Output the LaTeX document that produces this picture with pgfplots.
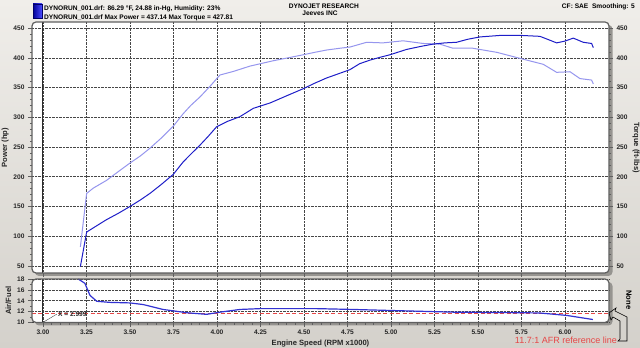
\documentclass[border=0pt]{standalone}
\usepackage{pgfplots}
\pgfplotsset{compat=1.18}
\usepackage{fontspec}
\setmainfont{Liberation Sans}
\definecolor{bgA}{RGB}{240,238,234}
\definecolor{bgB}{RGB}{212,209,203}
\definecolor{frm}{RGB}{95,95,95}
\definecolor{shd}{RGB}{150,148,144}
\definecolor{pw}{RGB}{30,30,200}
\definecolor{tq}{RGB}{150,150,238}
\definecolor{afr}{RGB}{50,50,210}
\definecolor{afrref}{RGB}{230,70,70}
\definecolor{gridc}{RGB}{70,70,70}
\newcommand{\fs}{\fontsize{6.6}{7.5}\selectfont\bfseries}
\newcommand{\fl}{\fontsize{7.6}{8.5}\selectfont\bfseries}
\pgfplotsset{dyno/.style={scale only axis, width=577pt, xmin=2.937, xmax=6.253,
  axis line style={draw=none}, tick align=outside, tick style={frm, line width=0.5pt},
  major tick length=4pt, minor tick length=2pt,
  ticklabel style={font=\fs, text=black!85}, label style={font=\fl, text=black!85},
  /pgf/number format/assume math mode=true,
  xtick={3,3.25,3.5,3.75,4,4.25,4.5,4.75,5,5.25,5.5,5.75,6},
  major grid style={densely dotted, gridc, line width=0.5pt}}}
\begin{document}
\begin{tikzpicture}[x=1pt,y=1pt]
\shade[top color=bgA, bottom color=bgB] (0,0) rectangle (640,348);
\path[use as bounding box] (0,0) rectangle (640,348);
% panels
\fill[shd, rounded corners=4] (35,72) rectangle (612.5,323);
\fill[white, rounded corners=4] (32,75) rectangle (609,326);
\fill[shd, rounded corners=4] (35,22.5) rectangle (612.5,66);
\fill[white, rounded corners=4] (32,25.5) rectangle (609,69);
% top axis
\begin{axis}[dyno, at={(32pt,75pt)}, anchor=south west, height=251pt,
  ymin=38.2, ymax=460.1, ytick={50,100,...,450}, minor y tick num=4,
  xticklabels={}, grid=major, ytick pos=left, xtick pos=bottom,
  ylabel={Power (hp)}, ylabel style={yshift=-2pt}]
\addplot[gridc!60!black, line width=0.7pt] coordinates {(2.999,38.2) (2.999,460.1)};
\addplot[tq, line width=1pt] coordinates {
(3.215,82)(3.251,172)(3.29,181)(3.366,194)(3.43,208)(3.50,223)(3.56,235)(3.615,248)
(3.68,265)(3.749,285)(3.806,306)(3.85,320)(3.902,334)(3.96,352)(4.017,371)(4.094,377)
(4.19,386)(4.324,395)(4.41,400)(4.496,405)(4.56,409)(4.63,413)(4.707,416)(4.764,418)
(4.86,426)(4.954,425)(5.07,428.5)(5.185,424)(5.28,423)(5.356,416)(5.47,416)(5.61,409)
(5.741,399)(5.875,389)(5.952,375.5)(6.029,376.5)(6.086,365)(6.153,362.5)(6.163,356)};
\addplot[pw, line width=1pt] coordinates {
(3.215,49)(3.251,107)(3.30,116)(3.366,128)(3.43,138)(3.50,150)(3.56,161)(3.615,172)
(3.68,187)(3.749,204)(3.806,225)(3.85,238)(3.902,253)(3.95,268)(3.998,284)(4.06,293)
(4.132,301)(4.209,315)(4.305,324)(4.40,336)(4.496,348)(4.56,357)(4.63,366)(4.707,374)
(4.764,380)(4.82,390)(4.879,396)(4.94,401)(4.994,405)(5.09,414)(5.17,419)(5.243,423)
(5.31,425)(5.377,426)(5.44,431)(5.511,435)(5.626,437.5)(5.75,437.5)(5.856,436)(5.90,431)
(5.952,425)(6.00,428)(6.048,433)(6.105,426)(6.153,424)(6.163,417)};
\end{axis}
\begin{axis}[dyno, at={(32pt,75pt)}, anchor=south west, height=251pt,
  ymin=38.2, ymax=460.1, ytick={50,100,...,450}, minor y tick num=4,
  axis x line=none, axis y line*=right,
  ylabel={Torque (ft-lbs)}, ylabel style={rotate=180, yshift=-2pt}]
\end{axis}
% bottom axis
\begin{axis}[dyno, at={(32pt,25.5pt)}, anchor=south west, height=43.5pt,
  ymin=10, ymax=18, ytick={10,12,...,18}, minor y tick num=1, minor x tick num=4,
  grid=major, ytick pos=left, xtick pos=bottom, clip=false,
  xticklabel style={/pgf/number format/.cd, fixed, fixed zerofill, precision=2},
  xlabel={Engine Speed (RPM x1000)}, xlabel style={yshift=1.5pt},
  ylabel={Air/Fuel}, ylabel style={yshift=-1pt}]
\addplot[gridc!60!black, line width=0.7pt] coordinates {(2.999,10) (2.999,18)};
\addplot[afrref, line width=0.8pt, dash pattern=on 4pt off 2.5pt] coordinates {(2.937,11.7) (6.253,11.7)};
\addplot[afr, line width=1.2pt] coordinates {
(3.203,18)(3.241,17.2)(3.27,15)(3.309,13.9)(3.385,13.7)(3.50,13.6)(3.576,13.3)(3.69,12.4)
(3.826,11.8)(3.94,11.5)(4.017,11.9)(4.132,12.4)(4.247,12.55)(4.573,12.55)(4.78,12.4)
(5.01,12.2)(5.36,11.9)(5.74,11.8)(5.856,11.75)(6.01,11.3)(6.16,10.55)};
\draw[gridc, line width=0.4pt] (axis cs:2.999,10) -- (axis cs:3.08,11.55)
  node[anchor=west, font=\fs, text=black!85, inner sep=1pt] {X = 2.999};
\end{axis}
% frames
\draw[frm, line width=1.2pt, rounded corners=4] (32,75) rectangle (609,326);
\draw[frm, line width=1.2pt, rounded corners=4] (32,25.5) rectangle (609,69);
% header
\shade[left color=blue!60!black, right color=blue!70!white] (33,330) rectangle (42,344);
\draw[blue!40!black, line width=0.3pt] (33,330) rectangle (42,344);
\node[anchor=base west, font=\fs, inner sep=0] at (44,337.5) {DYNORUN\_001.drf: 86.29 °F, 24.88 in-Hg, Humidity: 23\%};
\node[anchor=base west, font=\fs, inner sep=0] at (44,328.5) {DYNORUN\_001.drf Max Power = 437.14 Max Torque = 427.81};
\node[anchor=base, font=\fs, inner sep=0] at (324,339) {DYNOJET RESEARCH};
\node[anchor=base, font=\fs, inner sep=0] at (320,332) {Jeeves INC};
\node[anchor=base east, font=\fs, inner sep=0] at (635,339) {CF: SAE\ \ Smoothing: 5};
% None label
\node[rotate=-90, font=\fl, inner sep=0] at (629,48) {None};
% AFR reference note
\node[anchor=base east, font=\fontsize{9}{10}\selectfont, text=afrref, inner sep=0] at (617,4) {11.7:1 AFR reference line};
\draw[black, line width=0.6pt] (609,35) -- (616,40) -- (615,37) -- (627,31) -- (627,7) -- (618,7) -- (620,9) -- (620,27) -- (613,31) -- (611,28) -- cycle;
\end{tikzpicture}
\end{document}
